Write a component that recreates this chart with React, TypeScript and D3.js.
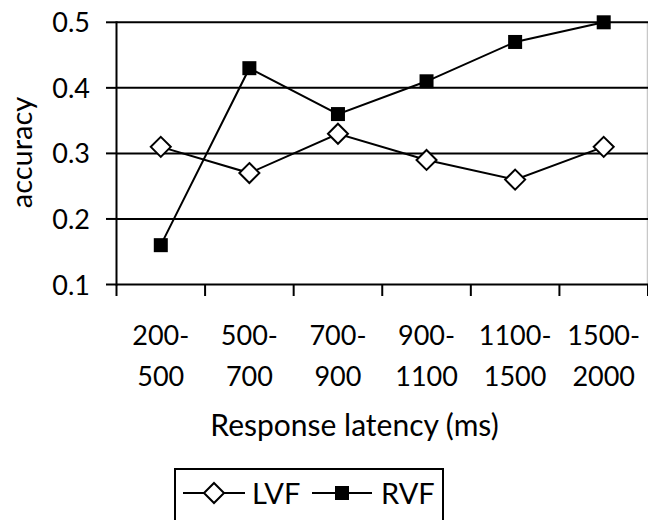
import React from "react";
import * as d3 from "d3";

const categories = ["200-500", "500-700", "700-900", "900-1100", "1100-1500", "1500-2000"];
const catLine1 = ["200-", "500-", "700-", "900-", "1100-", "1500-"];
const catLine2 = ["500", "700", "900", "1100", "1500", "2000"];
const lvf = [0.31, 0.27, 0.33, 0.29, 0.26, 0.31];
const rvf = [0.16, 0.43, 0.36, 0.41, 0.47, 0.5];
const yTicks = [0.1, 0.2, 0.3, 0.4, 0.5];
const gridTicks = [0.2, 0.3, 0.4, 0.5];

const W = 648;
const H = 520;
const FONT = "Lato, 'Noto Sans', sans-serif";

export default function App() {
  const left = 116.5;
  const right = 648;
  const top = 22.3;
  const bottom = 284.5;
  const x = d3.scaleBand<string>().domain(categories).range([left, right]);
  const y = d3.scaleLinear().domain([0.1, 0.5]).range([bottom, top]);
  const cx = (i: number) => (x(categories[i]) as number) + x.bandwidth() / 2;
  const line = d3
    .line<number>()
    .x((_, i) => cx(i))
    .y((d) => y(d));
  const bounds = categories.map((c) => x(c) as number).concat([right]);
  const diamond = (px: number, py: number, r: number) =>
    `M${px},${py - r}L${px + r},${py}L${px},${py + r}L${px - r},${py}Z`;

  return (
    <svg
      width={W}
      height={H}
      style={{ position: "absolute", left: 0, top: 0, background: "#fff" }}
      fontFamily={FONT}
    >
      <rect x={0} y={0} width={W} height={H} fill="#fff" />
      {/* right plot border */}
      <line x1={647.3} x2={647.3} y1={top} y2={bottom} stroke="#bbb" strokeWidth={1} />
      {/* gridlines */}
      {gridTicks.map((t) => (
        <line key={t} x1={left} x2={right} y1={y(t)} y2={y(t)} stroke="#000" strokeWidth={2} />
      ))}
      {/* axes */}
      <line x1={left} x2={right} y1={bottom} y2={bottom} stroke="#000" strokeWidth={2} />
      <line x1={left} x2={left} y1={top - 1} y2={bottom + 1} stroke="#000" strokeWidth={2} />
      {yTicks.map((t) => (
        <g key={t}>
          <line x1={106} x2={left} y1={y(t)} y2={y(t)} stroke="#000" strokeWidth={2} />
          <text x={90} y={y(t) + 10} textAnchor="end" fontSize={27} fill="#000">
            {t.toFixed(1)}
          </text>
        </g>
      ))}
      {bounds.map((b, i) => (
        <line key={i} x1={b} x2={b} y1={bottom} y2={296} stroke="#000" strokeWidth={2} />
      ))}
      {categories.map((c, i) => (
        <g key={c}>
          <text x={cx(i)} y={345} textAnchor="middle" fontSize={27} fill="#000">
            {catLine1[i]}
          </text>
          <text x={cx(i)} y={386} textAnchor="middle" fontSize={27} fill="#000">
            {catLine2[i]}
          </text>
        </g>
      ))}
      <text
        transform={`translate(32,152.5) rotate(-90)`}
        textAnchor="middle"
        fontSize={29}
        fill="#000"
      >
        accuracy
      </text>
      <text x={354.5} y={436} textAnchor="middle" fontSize={30} fill="#000">
        Response latency (ms)
      </text>
      {/* series */}
      <path d={line(lvf) || ""} fill="none" stroke="#000" strokeWidth={2} />
      <path d={line(rvf) || ""} fill="none" stroke="#000" strokeWidth={2} />
      {lvf.map((v, i) => (
        <path key={i} d={diamond(cx(i), y(v), 10)} fill="#fff" stroke="#000" strokeWidth={2} />
      ))}
      {rvf.map((v, i) => (
        <rect key={i} x={cx(i) - 7} y={y(v) - 7} width={14} height={14} fill="#000" />
      ))}
      {/* legend */}
      <rect x={175} y={469} width={268} height={70} fill="none" stroke="#000" strokeWidth={2} />
      <line x1={183} x2={245} y1={493} y2={493} stroke="#000" strokeWidth={2} />
      <path d={diamond(214, 493, 10)} fill="#fff" stroke="#000" strokeWidth={2} />
      <text x={252} y={504} fontSize={29} fill="#000">
        LVF
      </text>
      <line x1={312} x2={372} y1={493} y2={493} stroke="#000" strokeWidth={2} />
      <rect x={335} y={486} width={14} height={14} fill="#000" />
      <text x={381} y={504} fontSize={29} fill="#000">
        RVF
      </text>
    </svg>
  );
}
